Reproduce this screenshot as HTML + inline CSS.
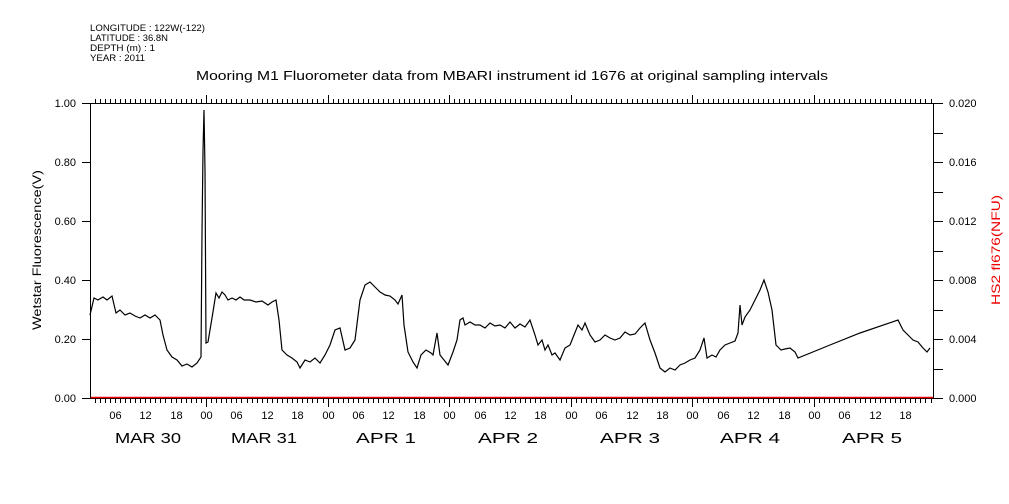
<!DOCTYPE html>
<html><head><meta charset="utf-8"><style>
body{margin:0;background:#fff;}
svg{display:block;font-family:"Liberation Sans",sans-serif;}
</style></head><body>
<svg width="1009" height="504" viewBox="0 0 1009 504" xmlns="http://www.w3.org/2000/svg">
<rect width="1009" height="504" fill="#fff"/>
<g font-size="9" fill="#000">
<text x="90" y="31" textLength="115" lengthAdjust="spacingAndGlyphs">LONGITUDE : 122W(-122)</text>
<text x="90" y="41" textLength="78" lengthAdjust="spacingAndGlyphs">LATITUDE : 36.8N</text>
<text x="90" y="51" textLength="65" lengthAdjust="spacingAndGlyphs">DEPTH (m) : 1</text>
<text x="90" y="61" textLength="55" lengthAdjust="spacingAndGlyphs">YEAR : 2011</text>
</g>
<text x="196" y="80" font-size="13" textLength="632" lengthAdjust="spacingAndGlyphs">Mooring M1 Fluorometer data from MBARI instrument id 1676 at original sampling intervals</text>
<g stroke="#000" stroke-width="1" fill="none">
<line x1="90.5" y1="103" x2="90.5" y2="398"/>
<line x1="933.5" y1="103" x2="933.5" y2="398"/>
<line x1="90" y1="103.5" x2="934" y2="103.5"/>
<line x1="90" y1="398.5" x2="934" y2="398.5"/>
</g>
<g id="ticks" stroke="#000" stroke-width="1"></g>
<g font-size="11" text-anchor="end">
<text x="76" y="107">1.00</text><text x="76" y="166">0.80</text><text x="76" y="225">0.60</text><text x="76" y="284">0.40</text><text x="76" y="343">0.20</text><text x="76" y="402">0.00</text>
</g>
<g font-size="11">
<text x="949" y="107">0.020</text><text x="949" y="166">0.016</text><text x="949" y="225">0.012</text><text x="949" y="284">0.008</text><text x="949" y="343">0.004</text><text x="949" y="402">0.000</text>
</g>
<text transform="translate(41,250) rotate(-90)" font-size="12" text-anchor="middle" textLength="160" lengthAdjust="spacingAndGlyphs">Wetstar Fluorescence(V)</text>
<text transform="translate(1000,250) rotate(-90)" font-size="12" text-anchor="middle" fill="#e00" textLength="110" lengthAdjust="spacingAndGlyphs">HS2 fl676(NFU)</text>
<g id="hl" font-size="11" text-anchor="middle"></g>
<g font-size="15" text-anchor="middle">
<text x="148" y="443" textLength="66" lengthAdjust="spacingAndGlyphs">MAR 30</text><text x="264" y="443" textLength="66" lengthAdjust="spacingAndGlyphs">MAR 31</text><text x="386" y="443" textLength="60" lengthAdjust="spacingAndGlyphs">APR  1</text><text x="508" y="443" textLength="60" lengthAdjust="spacingAndGlyphs">APR  2</text><text x="630" y="443" textLength="60" lengthAdjust="spacingAndGlyphs">APR  3</text><text x="750" y="443" textLength="60" lengthAdjust="spacingAndGlyphs">APR  4</text><text x="872" y="443" textLength="60" lengthAdjust="spacingAndGlyphs">APR  5</text>
</g>
<line x1="91" y1="397.5" x2="933" y2="397.5" stroke="#e00" stroke-width="1.5"/>
<polyline fill="none" stroke="#000" stroke-width="1.2" points="90,315 94,298 98,300 103,297 107,300 112,296 116,313 120,310 125,315 130,313 135,316 140,318 145,315 150,318 155,315 160,320 163,335 167,350 172,357 177,360 182,366 187,364 192,367 197,363 201,357 202,233 203,151 204,110 205,170 206,343 208,342 212,318 216,293 219,298 222,292 225,295 228,300 232,298 236,300 240,297 244,300 250,300 256,302 262,301 268,305 272,302 276,300 279,320 282,350 287,355 292,358 297,362 300,368 305,360 310,362 315,358 320,363 325,355 330,345 335,330 340,328 345,350 350,348 355,340 360,300 365,285 370,282 375,287 380,292 385,295 390,296 395,300 398,304 402,295 404,325 408,352 413,362 417,368 421,355 426,350 431,353 433,355 437,333 440,355 444,360 448,365 453,352 457,340 460,320 463,318 465,325 470,322 475,325 480,325 485,328 490,323 495,326 500,325 505,328 510,322 515,328 520,324 525,327 530,320 535,335 538,345 542,340 545,350 548,345 552,355 555,353 560,360 565,348 570,345 574,335 578,325 582,330 585,323 590,335 595,342 600,340 605,335 610,338 615,340 620,338 625,332 630,335 635,334 640,328 645,323 650,340 655,353 660,368 665,372 670,368 675,370 680,365 685,363 690,360 695,358 700,350 704,338 707,358 712,355 716,357 720,350 725,345 730,343 735,341 738,333 740,305 742,325 745,317 750,310 755,300 760,290 764,280 768,292 772,310 776,345 781,350 785,349 790,348 795,352 798,358 830,345 860,333 898,320 903,330 908,335 913,340 918,342 923,348 927,352 930,348"/>
<script>
var ns="http://www.w3.org/2000/svg",g=document.getElementById("ticks"),hl=document.getElementById("hl");
function L(a,b,c,d){var l=document.createElementNS(ns,"line");l.setAttribute("x1",a);l.setAttribute("y1",b);l.setAttribute("x2",c);l.setAttribute("y2",d);g.appendChild(l);}
var ppH=121.6/24;
for(var h=0;;h++){var x=Math.round(206+(h-23)*ppH)+0.5;if(x>934)break;if(x<90)continue;
var hr=((h-23)%24+24)%24;var maj=hr==0;
L(x,103,x,maj?95:99);L(x,398,x,maj?407:403);
if(hr%6==0){var t=document.createElementNS(ns,"text");t.setAttribute("x",x);t.setAttribute("y",419);t.textContent=(hr<10?"0":"")+hr;hl.appendChild(t);}}
for(var i=0;i<=10;i++){var y=Math.round(103+i*29.5)+0.5;L(933,y,943,y);if(i%2==0)L(82,y,90,y);}
</script>
</svg>
</body></html>
